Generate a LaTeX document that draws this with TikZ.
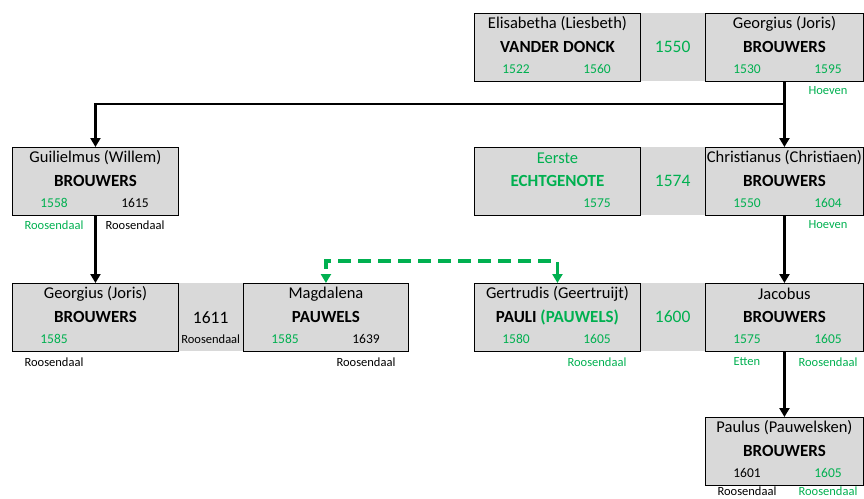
\documentclass[tikz,border=0pt]{standalone}
\usepackage{fontspec}
\setmainfont{Carlito}
\usetikzlibrary{arrows.meta}
\definecolor{grn}{RGB}{0,176,80}
\definecolor{boxgray}{RGB}{217,217,217}
\tikzset{
  person/.style={draw=black, line width=0.9pt, fill=boxgray, anchor=north west, inner sep=0pt, minimum height=68pt},
  gapbox/.style={fill=boxgray, anchor=north west, inner sep=0pt, minimum height=68pt, minimum width=65pt},
  nm/.style={font=\fontsize{16.5}{18}\selectfont, inner sep=0pt},
  sn/.style={font=\fontsize{17}{19}\selectfont\bfseries, inner sep=0pt},
  yr/.style={font=\fontsize{13.5}{15}\selectfont, inner sep=0pt},
  plc/.style={font=\fontsize{12.5}{14}\selectfont, inner sep=0pt},
  myr/.style={font=\fontsize{17.5}{19}\selectfont, inner sep=0pt},
  tiptri/.tip={Triangle[length=9pt,width=10pt]},
  conn/.style={line width=2.8pt, -tiptri},
  plain/.style={line width=2.8pt},
  link/.style={line width=3.2pt, draw=grn, dash pattern=on 13pt off 7pt, tiptri-tiptri, color=grn},
}
% id, x, y, width, first line, second line
\newcommand\famcard[6]{%
  \node[person, minimum width=#4pt] (#1) at (#2,#3) {};
  \node[nm] (#1-a) at ([yshift=-11pt]#1.north) {#5};
  \node[sn] (#1-b) at ([yshift=-34pt]#1.north) {#6};
}
% id, text, colour
\newcommand\yrL[3]{\node[yr, text=#3] (#1-yl) at ([xshift=42pt,yshift=-56pt]#1.north west) {#2};}
\newcommand\yrR[3]{\node[yr, text=#3] (#1-yr) at ([xshift=123pt,yshift=-56pt]#1.north west) {#2};}
\newcommand\plL[4]{\node[plc, text=#3] (#1-pl) at ([xshift=42pt,yshift=-#4pt]#1.south west) {#2};}
\newcommand\plR[4]{\node[plc, text=#3] (#1-pr) at ([xshift=123pt,yshift=-#4pt]#1.south west) {#2};}
\begin{document}
\begin{tikzpicture}[x=1pt,y=-1pt]
\useasboundingbox (0,0) rectangle (864,498);

% marriage gaps
\node[gapbox] (m1) at (640,13) {};
\node[myr, text=grn] (m1-t) at ([yshift=-34pt]m1.north) {1550};
\node[gapbox] (m2) at (640,147) {};
\node[myr, text=grn] (m2-t) at ([yshift=-34pt]m2.north) {1574};
\node[gapbox] (m3) at (178,283) {};
\node[myr, text=black] (m3-t) at ([yshift=-35pt]m3.north) {1611};
\node[plc] (m3-p) at ([yshift=-56pt]m3.north) {Roosendaal};
\node[gapbox] (m4) at (640,283) {};
\node[myr, text=grn] (m4-t) at ([yshift=-34pt]m4.north) {1600};

% row 1
\famcard{eli}{474}{13}{166}{Elisabetha (Liesbeth)}{VANDER DONCK}
\yrL{eli}{1522}{grn}\yrR{eli}{1560}{grn}
\famcard{geo1}{705}{13}{158}{Georgius (Joris)}{BROUWERS}
\yrL{geo1}{1530}{grn}\yrR{geo1}{1595}{grn}
\plR{geo1}{Hoeven}{grn}{9}

% row 2
\famcard{gui}{12}{147}{166}{Guilielmus (Willem)}{BROUWERS}
\yrL{gui}{1558}{grn}\yrR{gui}{1615}{black}
\plL{gui}{Roosendaal}{grn}{9}\plR{gui}{Roosendaal}{black}{9}
\famcard{eer}{474}{147}{166}{\color{grn}Eerste}{\color{grn}ECHTGENOTE}
\yrR{eer}{1575}{grn}
\famcard{chr}{705}{147}{158}{Christianus (Christiaen)}{BROUWERS}
\yrL{chr}{1550}{grn}\yrR{chr}{1604}{grn}
\plR{chr}{Hoeven}{grn}{9}

% row 3
\famcard{geo2}{12}{283}{166}{Georgius (Joris)}{BROUWERS}
\yrL{geo2}{1585}{grn}
\plL{geo2}{Roosendaal}{black}{10}
\famcard{mag}{243}{283}{165}{Magdalena}{PAUWELS}
\yrL{mag}{1585}{grn}\yrR{mag}{1639}{black}
\plR{mag}{Roosendaal}{black}{10}
\famcard{ger}{474}{283}{166}{Gertrudis (Geertruijt)}{PAULI {\color{grn}(PAUWELS)}}
\yrL{ger}{1580}{grn}\yrR{ger}{1605}{grn}
\plR{ger}{Roosendaal}{grn}{10}
\famcard{jac}{705}{283}{158}{Jacobus}{BROUWERS}
\yrL{jac}{1575}{grn}\yrR{jac}{1605}{grn}
\plL{jac}{Etten}{grn}{10}\plR{jac}{Roosendaal}{grn}{10}

% row 4
\famcard{pau}{705}{417}{158}{Paulus (Pauwelsken)}{BROUWERS}
\yrL{pau}{1601}{black}\yrR{pau}{1605}{grn}
\plL{pau}{Roosendaal}{black}{5.5}\plR{pau}{Roosendaal}{grn}{5.5}

% connectors
\coordinate (j1) at ([yshift=-22pt]geo1.south);
\draw[plain] (geo1.south) -- (j1);
\draw[conn] (j1) -| (gui.north);
\draw[conn] (j1) -- (chr.north);
\draw[conn] (gui.south) -- (geo2.north);
\draw[conn] (chr.south) -- (jac.north);
\draw[conn] (jac.south) -- (pau.north);
\coordinate (dk) at ([yshift=22pt]ger.north);
\draw[link] (ger.north) -- (dk) -| (mag.north);
\end{tikzpicture}
\end{document}
